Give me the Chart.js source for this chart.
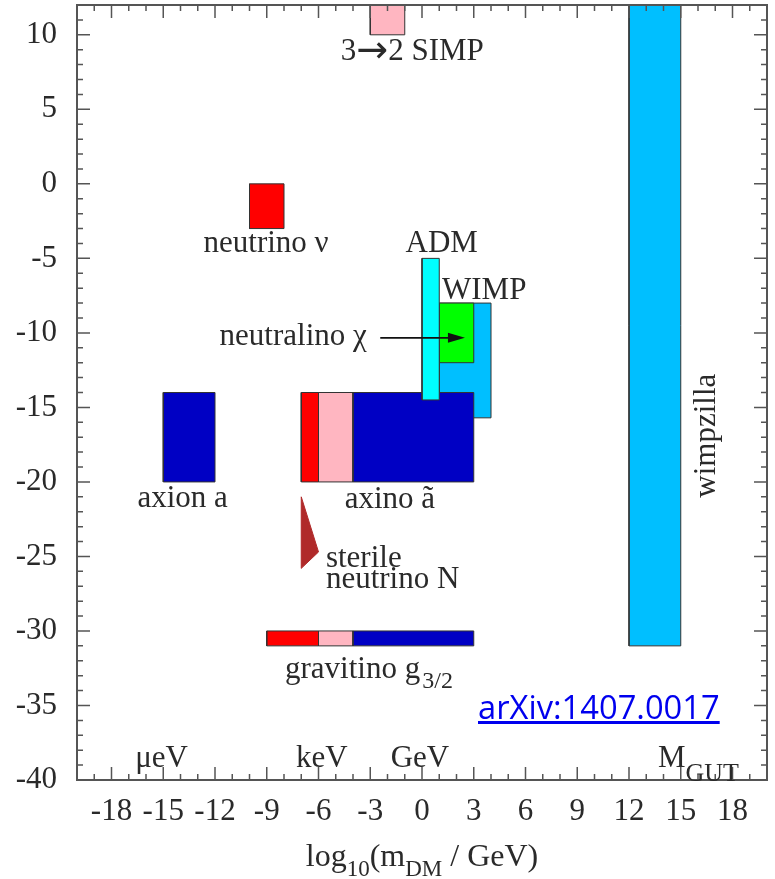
<!DOCTYPE html>
<html>
<head>
<meta charset="utf-8">
<script src="https://cdn.jsdelivr.net/npm/chart.js@4.4.1/dist/chart.umd.min.js"></script>
<style>
  html, body { margin: 0; padding: 0; background: #fff; }
  #wrap { position: relative; width: 775px; height: 879px; }
  #ref {
    position: absolute; left: 478px; top: 691px;
    font-family: 'Open Sans', 'Noto Sans', sans-serif; font-size: 32.7px; line-height: 1;
    color: #0000ee; text-decoration: underline; white-space: nowrap;
  }
</style>
</head>
<body>
<div id="wrap">
  <canvas id="c" width="775" height="879"></canvas>
  <a id="ref" href="https://arxiv.org/abs/1407.0017">arXiv:1407.0017</a>
</div>
<script>
// Axis ticks
const X_TICKS = [-18, -15, -12, -9, -6, -3, 0, 3, 6, 9, 12, 15, 18];
const Y_TICKS = [-40, -35, -30, -25, -20, -15, -10, -5, 0, 5, 10];

// Candidate regions: log10(m / GeV) span and log10(cross section) span
const SIMP_X = [-3, -1],         SIMP_Y = [10, 12];
const NEUTRINO_X = [-10, -8],    NEUTRINO_Y = [-3, 0];
const ADM_X = [0, 1],            ADM_Y = [-14.5, -5];
const WIMP_X = [1, 4],           WIMP_Y = [-15.7, -8];
const NEUTRALINO_X = [1, 3],     NEUTRALINO_Y = [-12, -8];
const AXION_X = [-15, -12],      AXION_Y = [-20, -14];
const AXINO_X = [-7, -6, -4, 3], AXINO_Y = [-20, -14];          // hot / warm / cold
const GRAVITINO_X = [-9, -6, -4, 3], GRAVITINO_Y = [-31, -30];  // hot / warm / cold
const WIMPZILLA_X = [12, 15],    WIMPZILLA_Y = [-31, 12];
const STERILE_X = [-7, -6, -7],  STERILE_Y = [-21, -24.7, -25.8];

const HOT = '#ff0000', WARM = '#ffb6c1', COLD = '#0000c4';
const CYAN = '#00ffff', SKY = '#00bfff', GREEN = '#00ff00', BROWN = '#b02a2a';

const SERIF = '"Liberation Serif", "DejaVu Serif", serif';
const SANS = '"DejaVu Sans", sans-serif';
const INK = '#2a2a2a';
const FS = 31;

function rect(xs, ys) {
  return [
    { x: xs[0], y: ys[0] }, { x: xs[1], y: ys[0] },
    { x: xs[1], y: ys[1] }, { x: xs[0], y: ys[1] }, { x: xs[0], y: ys[0] }
  ];
}
function poly(xs, ys) {
  const pts = xs.map((x, i) => ({ x, y: ys[i] }));
  pts.push({ x: xs[0], y: ys[0] });
  return pts;
}
// split a segmented span into consecutive rectangles
function segments(xs, ys) {
  const out = [];
  for (let i = 0; i < xs.length - 1; i++) out.push(rect([xs[i], xs[i + 1]], ys));
  return out;
}

// drawn bottom first, top last
const shapes = [];
function add(data, fillColor, edge = '#333') {
  shapes.push({ data, fillColor, edge });
}
add(rect(WIMPZILLA_X, WIMPZILLA_Y), SKY);
add(rect(WIMP_X, WIMP_Y), SKY);
add(rect(NEUTRALINO_X, NEUTRALINO_Y), GREEN);
const axSeg = segments(AXINO_X, AXINO_Y);
add(axSeg[0], HOT); add(axSeg[1], WARM); add(axSeg[2], COLD);
add(rect(ADM_X, ADM_Y), CYAN);
add(rect(AXION_X, AXION_Y), COLD);
const grSeg = segments(GRAVITINO_X, GRAVITINO_Y);
add(grSeg[0], HOT); add(grSeg[1], WARM); add(grSeg[2], COLD);
add(rect(NEUTRINO_X, NEUTRINO_Y), HOT);
add(rect(SIMP_X, SIMP_Y), WARM);
add(poly(STERILE_X, STERILE_Y), BROWN, BROWN);

const datasets = shapes.map((s, i) => ({
  data: s.data,
  showLine: true,
  fill: 'shape',
  backgroundColor: s.fillColor,
  borderColor: s.edge,
  borderWidth: 1,
  pointRadius: 0,
  pointHoverRadius: 0,
  tension: 0,
  order: shapes.length - i
}));

// text placed in data units
const LABELS = [
  { t: 'neutrino \u03bd', x: -9.04, y: -4.56, a: 'center' },
  { t: 'ADM', x: 1.14, y: -4.58, a: 'center' },
  { t: 'WIMP', x: 1.16, y: -7.73, a: 'left' },
  { t: 'neutralino \u03c7', x: -3.2, y: -10.82, a: 'right' },
  { t: 'axion a', x: -13.88, y: -21.67, a: 'center' },
  { t: 'axino \u00e3', x: -1.86, y: -21.75, a: 'center' },
  { t: 'sterile', x: -5.57, y: -25.69, a: 'left' },
  { t: 'neutrino N', x: -5.57, y: -27.14, a: 'left' },
  { t: '\u03bceV', x: -15.1, y: -39.1, a: 'center' },
  { t: 'keV', x: -5.81, y: -39.1, a: 'center' },
  { t: 'GeV', x: -0.12, y: -39.1, a: 'center' }
];
const ARROW_X = [-2.42, 2.49], ARROW_Y = -10.33;

function richText(ctx, parts, x, y, align) {
  // parts: [text, size, dy, family]
  const f = p => p[1] + 'px ' + (p[3] || SERIF);
  let w = 0;
  parts.forEach(p => { ctx.font = f(p); w += ctx.measureText(p[0]).width; });
  let cx = align === 'center' ? x - w / 2 : x;
  ctx.textAlign = 'left';
  parts.forEach(p => {
    ctx.font = f(p);
    ctx.fillText(p[0], cx, y + p[2]);
    cx += ctx.measureText(p[0]).width;
  });
}

const decor = {
  id: 'decor',
  afterDraw(chart) {
    const { ctx, chartArea: ca, scales: { x, y } } = chart;
    ctx.save();
    // frame
    ctx.strokeStyle = '#555';
    ctx.lineWidth = 2;
    ctx.strokeRect(ca.left, ca.top, ca.right - ca.left, ca.bottom - ca.top);
    // inward ticks on all four sides
    ctx.lineWidth = 1.5;
    ctx.beginPath();
    for (let v = -19; v <= 19; v++) {
      const px = x.getPixelForValue(v);
      const len = v % 3 === 0 ? 13 : 6;
      ctx.moveTo(px, ca.bottom); ctx.lineTo(px, ca.bottom - len);
      ctx.moveTo(px, ca.top); ctx.lineTo(px, ca.top + len);
    }
    for (let v = -39; v <= 11; v++) {
      const py = y.getPixelForValue(v);
      const len = v % 5 === 0 ? 13 : 6;
      ctx.moveTo(ca.left, py); ctx.lineTo(ca.left + len, py);
      ctx.moveTo(ca.right, py); ctx.lineTo(ca.right - len, py);
    }
    ctx.stroke();

    // labels
    ctx.fillStyle = INK;
    ctx.textBaseline = 'alphabetic';
    ctx.font = FS + 'px ' + SERIF;
    LABELS.forEach(l => {
      ctx.textAlign = l.a;
      ctx.fillText(l.t, x.getPixelForValue(l.x), y.getPixelForValue(l.y));
    });
    richText(ctx, [['3', FS, 0], ['\u2192', 38, 2, SANS], ['2 SIMP', FS, 0]],
      x.getPixelForValue(-0.56), y.getPixelForValue(8.31), 'center');
    richText(ctx, [['gravitino g', FS, 0], ['\u200a3/2', 24, 10]],
      x.getPixelForValue(-7.94), y.getPixelForValue(-33.16), 'left');
    richText(ctx, [['M', FS, 0], ['GUT', 26, 14]],
      x.getPixelForValue(13.68), y.getPixelForValue(-39.1), 'left');

    // wimpzilla, reading upward
    ctx.save();
    ctx.translate(x.getPixelForValue(16.99), y.getPixelForValue(-16.9));
    ctx.rotate(-Math.PI / 2);
    ctx.textAlign = 'center';
    ctx.font = FS + 'px ' + SERIF;
    ctx.fillText('wimpzilla', 0, 0);
    ctx.restore();

    // neutralino arrow
    const ax0 = x.getPixelForValue(ARROW_X[0]);
    const ax1 = x.getPixelForValue(ARROW_X[1]);
    const ay = y.getPixelForValue(ARROW_Y);
    ctx.strokeStyle = '#111';
    ctx.fillStyle = '#111';
    ctx.lineWidth = 1.8;
    ctx.beginPath();
    ctx.moveTo(ax0, ay); ctx.lineTo(ax1 - 12, ay);
    ctx.stroke();
    ctx.beginPath();
    ctx.moveTo(ax1, ay); ctx.lineTo(ax1 - 17, ay - 5); ctx.lineTo(ax1 - 17, ay + 5);
    ctx.closePath(); ctx.fill();

    // axis title
    ctx.fillStyle = INK;
    const cx = (ca.left + ca.right) / 2;
    richText(ctx, [['log', 32, 0], ['10', 23, 10], ['(m', 32, 0], ['DM', 23, 10], [' / GeV)', 32, 0]],
      cx, ca.bottom + 86, 'center');
    ctx.restore();
  }
};

new Chart(document.getElementById('c'), {
  type: 'scatter',
  data: { datasets },
  options: {
    responsive: false,
    animation: false,
    events: [],
    layout: { padding: { top: 5, right: 8, left: 0, bottom: 0 } },
    plugins: { legend: { display: false }, tooltip: { enabled: false } },
    scales: {
      x: {
        type: 'linear', min: -20, max: 20,
        afterBuildTicks: s => { s.ticks = X_TICKS.map(v => ({ value: v })); },
        afterFit: s => { s.height = 99; s.paddingLeft = 0; s.paddingRight = 0; },
        grid: { display: false, drawTicks: false },
        border: { display: false },
        ticks: { font: { family: SERIF, size: FS }, color: INK, padding: 13, maxRotation: 0, autoSkip: false }
      },
      y: {
        type: 'linear', min: -40, max: 12,
        afterBuildTicks: s => { s.ticks = Y_TICKS.map(v => ({ value: v })); },
        afterFit: s => { s.width = 77; s.paddingTop = 0; s.paddingBottom = 0; },
        grid: { display: false, drawTicks: false },
        border: { display: false },
        ticks: { font: { family: SERIF, size: FS }, color: INK, padding: 20, autoSkip: false }
      }
    }
  },
  plugins: [decor]
});
</script>
</body>
</html>
